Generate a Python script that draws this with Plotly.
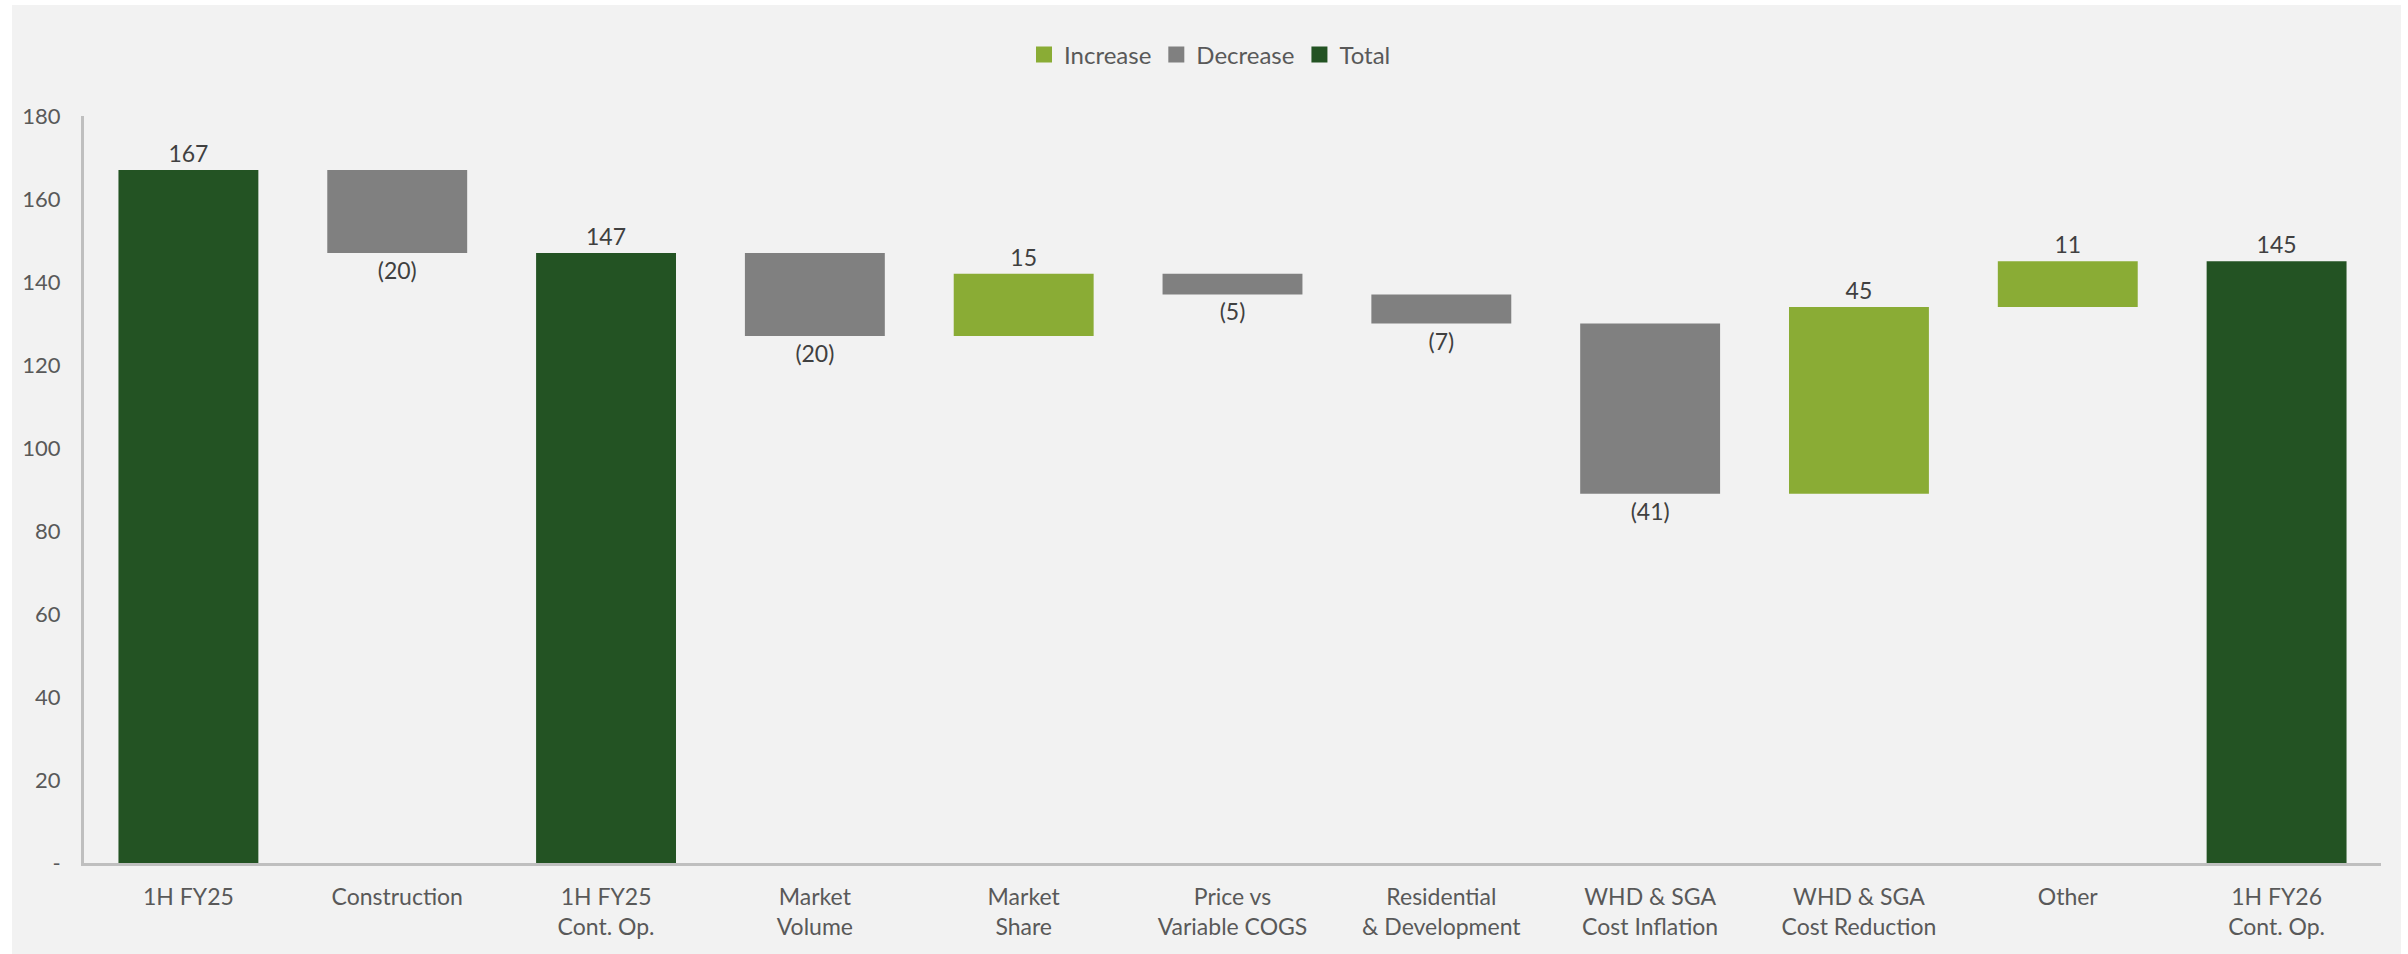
import plotly.graph_objects as go

categories = ["1H FY25", "Construction", "1H FY25<br>Cont. Op.", "Market<br>Volume", "Market<br>Share",
              "Price vs<br>Variable COGS", "Residential<br>& Development", "WHD & SGA<br>Cost Inflation",
              "WHD & SGA<br>Cost Reduction", "Other", "1H FY26<br>Cont. Op."]
values = [167, -20, 147, -20, 15, -5, -7, -41, 45, 11, 145]
measures = ["absolute", "relative", "total", "relative", "relative", "relative", "relative",
            "relative", "relative", "relative", "total"]

C_INC = "#8AAC35"
C_DEC = "#808080"
C_TOT = "#235323"
FONT = "Lato"


def fmt(v):
    return f"({abs(v)})" if v < 0 else f"{v}"


labels = [fmt(v) for v in values]

fig = go.Figure()
fig.add_trace(go.Waterfall(
    x=categories, y=values, measure=measures,
    text=labels, textposition="outside",
    textfont=dict(family=FONT, size=23, color="#404040"),
    increasing=dict(marker=dict(color=C_INC)),
    decreasing=dict(marker=dict(color=C_DEC)),
    totals=dict(marker=dict(color=C_TOT)),
    connector=dict(visible=False),
    showlegend=False, cliponaxis=False,
))
for name, col in [("Increase", C_INC), ("Decrease", C_DEC), ("Total", C_TOT)]:
    fig.add_trace(go.Scatter(x=[None], y=[None], mode="markers", name=name,
                             marker=dict(symbol="square", size=26, color=col)))

L, R, T, B = 84, 27, 116, 91
W, H = 2408, 954
pw, ph = W - L - R, H - T - B
fig.add_shape(type="rect", xref="paper", yref="paper", layer="below",
              x0=(12 - L) / pw, x1=(2401 - L) / pw, y0=-(H - T - ph) / ph - 0.01, y1=1 + (T - 5) / ph,
              fillcolor="#F2F2F2", line=dict(width=0))

fig.update_layout(
    width=W, height=H, margin=dict(l=L, r=R, t=T, b=B),
    paper_bgcolor="white", plot_bgcolor="rgba(0,0,0,0)",
    waterfallgap=0.33,
    font=dict(family=FONT, size=20, color="#595959"),
    legend=dict(orientation="h", x=(1210 - L) / pw, xanchor="center", y=1 + (T - 55) / ph, yanchor="middle",
                font=dict(family=FONT, size=24, color="#595959"), bgcolor="rgba(0,0,0,0)",
                itemwidth=30),
    xaxis=dict(showline=True, linecolor="#BFBFBF", linewidth=3, ticks="", showgrid=False,
               tickfont=dict(family=FONT, size=23, color="#595959"), ticklabelstandoff=11),
    yaxis=dict(range=[0, 180], tickvals=list(range(0, 181, 20)),
               ticktext=["-"] + [str(v) for v in range(20, 181, 20)],
               showline=True, linecolor="#BFBFBF", linewidth=3, ticks="", showgrid=False,
               zeroline=False, tickfont=dict(family=FONT, size=22, color="#595959"),
               ticklabelstandoff=16),
)

fig.write_html("out.html")
